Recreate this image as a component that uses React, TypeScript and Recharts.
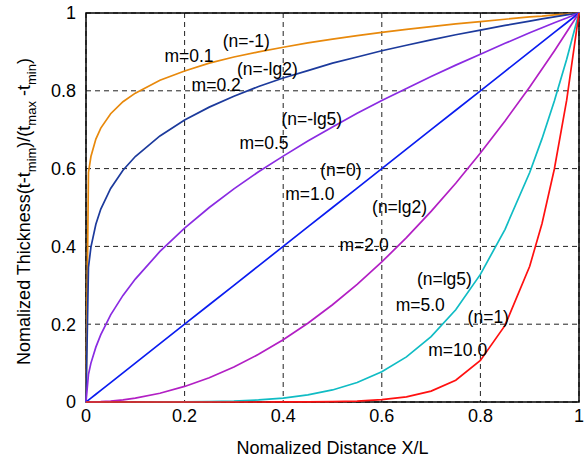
import React from 'react'
import {
  LineChart,
  Line,
  XAxis,
  YAxis,
  CartesianGrid,
  ReferenceArea,
  ReferenceDot,
  Label,
} from 'recharts'

// sample positions along X/L
const xs = [
  0, 0.005, 0.01, 0.02, 0.03, 0.05, 0.075, 0.1, 0.15, 0.2, 0.25, 0.3, 0.35, 0.4,
  0.45, 0.5, 0.55, 0.6, 0.65, 0.7, 0.75, 0.8, 0.85, 0.9, 0.925, 0.95, 0.975, 1,
]

// values
const m01 = [
  0, 0.59, 0.631, 0.676, 0.704, 0.741, 0.772, 0.794, 0.827, 0.851, 0.871, 0.887,
  0.9, 0.912, 0.923, 0.933, 0.942, 0.95, 0.958, 0.965, 0.972, 0.978, 0.984, 0.99,
  0.992, 0.995, 0.997, 1,
]
const m02 = [
  0, 0.346, 0.398, 0.457, 0.496, 0.549, 0.596, 0.631, 0.684, 0.725, 0.758, 0.786,
  0.811, 0.833, 0.852, 0.871, 0.887, 0.903, 0.917, 0.931, 0.944, 0.956, 0.968,
  0.979, 0.985, 0.99, 0.995, 1,
]
const m05 = [
  0, 0.071, 0.1, 0.141, 0.173, 0.224, 0.274, 0.316, 0.387, 0.447, 0.5, 0.548,
  0.592, 0.632, 0.671, 0.707, 0.742, 0.775, 0.806, 0.837, 0.866, 0.894, 0.922,
  0.949, 0.962, 0.975, 0.987, 1,
]
const m10 = [
  0, 0.005, 0.01, 0.02, 0.03, 0.05, 0.075, 0.1, 0.15, 0.2, 0.25, 0.3, 0.35, 0.4,
  0.45, 0.5, 0.55, 0.6, 0.65, 0.7, 0.75, 0.8, 0.85, 0.9, 0.925, 0.95, 0.975, 1,
]
const m20 = [
  0, 0, 0.0001, 0.0004, 0.0009, 0.0025, 0.0056, 0.01, 0.0225, 0.04, 0.0625, 0.09,
  0.1225, 0.16, 0.2025, 0.25, 0.3025, 0.36, 0.4225, 0.49, 0.5625, 0.64, 0.7225,
  0.81, 0.856, 0.9025, 0.951, 1,
]
const m50 = [
  0, 0, 0, 0, 0, 0, 0, 0, 0.0001, 0.0003, 0.001, 0.0024, 0.0053, 0.0102, 0.0185,
  0.031, 0.05, 0.078, 0.116, 0.168, 0.237, 0.328, 0.444, 0.59, 0.677, 0.774,
  0.881, 1,
]
const m100 = [
  0, 0, 0, 0, 0, 0, 0, 0, 0, 0, 0, 0, 0, 0.0001, 0.0003, 0.001, 0.0025, 0.006,
  0.013, 0.028, 0.056, 0.107, 0.197, 0.349, 0.459, 0.599, 0.776, 1,
]

const ticks = [0, 0.2, 0.4, 0.6, 0.8, 1]

const series = [
  { key: 'm01', values: m01, color: '#E8890C' },
  { key: 'm02', values: m02, color: '#1C3A9C' },
  { key: 'm05', values: m05, color: '#8A2BE2' },
  { key: 'm10', values: m10, color: '#0A1CF0' },
  { key: 'm20', values: m20, color: '#B21FC4' },
  { key: 'm50', values: m50, color: '#10BCC4' },
  { key: 'm100', values: m100, color: '#FF1010' },
]

const notes = [
  { text: 'm=0.1', x: 0.209, y: 0.891 },
  { text: '(n=-1)', x: 0.325, y: 0.929 },
  { text: '(n=-lg2)', x: 0.368, y: 0.857 },
  { text: 'm=0.2', x: 0.264, y: 0.816 },
  { text: '(n=-lg5)', x: 0.458, y: 0.728 },
  { text: 'm=0.5', x: 0.361, y: 0.667 },
  { text: '(n=0)', x: 0.517, y: 0.598 },
  { text: 'm=1.0', x: 0.454, y: 0.534 },
  { text: '(n=lg2)', x: 0.636, y: 0.501 },
  { text: 'm=2.0', x: 0.564, y: 0.403 },
  { text: '(n=lg5)', x: 0.727, y: 0.316 },
  { text: 'm=5.0', x: 0.678, y: 0.25 },
  { text: '(n=1)', x: 0.816, y: 0.219 },
  { text: 'm=10.0', x: 0.754, y: 0.133 },
]

const data = xs.map((x, i) => {
  const row: Record<string, number> = { x }
  series.forEach((s) => {
    row[s.key] = s.values[i]
  })
  return row
})

const font = '"Liberation Sans", Arial, sans-serif'

function YTitle(props: any) {
  const vb = props.viewBox || { x: 0, y: 0, height: 0 }
  const cx = vb.x + 4
  const cy = vb.y + vb.height / 2 + 4
  return (
    <text
      x={cx}
      y={cy}
      transform={`rotate(-90, ${cx}, ${cy})`}
      textAnchor="middle"
      fontSize={18}
      fontFamily={font}
      fill="#000"
    >
      <tspan>Nomalized Thickness(t-t</tspan>
      <tspan fontSize={13} dy={6}>mim</tspan>
      <tspan dy={-6}>)/(t</tspan>
      <tspan fontSize={13} dy={6}>max</tspan>
      <tspan dy={-6}> -t</tspan>
      <tspan fontSize={13} dy={6}>min</tspan>
      <tspan dy={-6}>)</tspan>
    </text>
  )
}

export default function App() {
  return (
    <div style={{ position: 'absolute', left: 0, top: 0, background: '#fff' }}>
      <LineChart
        width={586}
        height={458}
        data={data}
        margin={{ top: 13, right: 7, bottom: 26, left: 26 }}
      >
        <CartesianGrid
          stroke="#222"
          strokeDasharray="5 4"
          strokeWidth={1}
        />
        <XAxis
          dataKey="x"
          type="number"
          domain={[0, 1]}
          ticks={ticks}
          tickFormatter={(v: number) => String(v)}
          tickLine={false}
          axisLine={false}
          height={30}
          tick={{ fontSize: 18, fill: '#000', fontFamily: font }}
          tickMargin={1}
        >
          <Label
            value="Nomalized Distance X/L"
            position="insideBottom"
            offset={-22}
            fontSize={18}
            fontFamily={font}
            fill="#000"
          />
        </XAxis>
        <YAxis
          type="number"
          domain={[0, 1]}
          ticks={ticks}
          tickFormatter={(v: number) => String(v)}
          tickLine={false}
          axisLine={false}
          width={60}
          tick={{ fontSize: 18, fill: '#000', fontFamily: font }}
          tickMargin={4}
        >
          <Label content={<YTitle />} />
        </YAxis>
        {series.map((s) => (
          <Line
            key={s.key}
            dataKey={s.key}
            type="linear"
            stroke={s.color}
            strokeWidth={1.7}
            dot={false}
            isAnimationActive={false}
          />
        ))}
        <ReferenceArea
          x1={0}
          x2={1}
          y1={0}
          y2={1}
          fill="none"
          stroke="#000"
          strokeWidth={1.5}
          fillOpacity={0}
        />
        {notes.map((n) => (
          <ReferenceDot
            key={n.text}
            x={n.x}
            y={n.y}
            r={0}
            stroke="none"
            fill="none"
            label={{
              value: n.text,
              position: 'center',
              fill: '#000',
              fontSize: 17.5,
              fontFamily: font,
            }}
          />
        ))}
      </LineChart>
    </div>
  )
}
